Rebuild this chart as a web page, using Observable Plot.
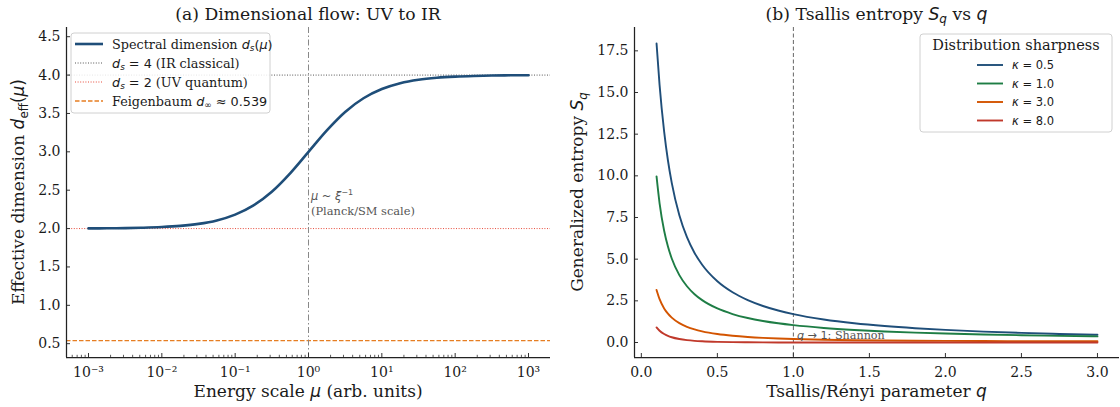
<!DOCTYPE html>
<html><head><meta charset="utf-8">
<script src="https://cdn.jsdelivr.net/npm/d3@7"></script>
<script src="https://cdn.jsdelivr.net/npm/@observablehq/plot@0.6"></script>
<style>
html,body{margin:0;padding:0;background:#fff;}
#fig{position:relative;width:1120px;height:407px;overflow:hidden;background:#fff;}
#fig svg{position:absolute;top:0;}
</style></head><body><div id="fig"></div>
<script>
// ---------- Panel (a): dimensional flow ----------
const muValues = [0.001, 0.00178, 0.00316, 0.00562, 0.01, 0.0178, 0.0316, 0.0562, 0.1, 0.178, 0.316, 0.562, 1, 1.78, 3.16, 5.62, 10, 17.8, 31.6, 56.2, 100, 178, 316, 562, 1000];
const dsValues = [2.002, 2.004, 2.006, 2.011, 2.020, 2.035, 2.061, 2.106, 2.182, 2.302, 2.480, 2.720, 3.000, 3.280, 3.520, 3.698, 3.818, 3.894, 3.939, 3.965, 3.980, 3.989, 3.994, 3.997, 3.998];
const irLevel = 4;
const uvLevel = 2;
const feigenbaum = 0.539;
const crossoverMu = 1;
const aXTicks = [1e-3, 1e-2, 1e-1, 1, 10, 100, 1000];
const aXTickLabels = ["10⁻³", "10⁻²", "10⁻¹", "10⁰", "10¹", "10²", "10³"];
const aYTicks = [0.5, 1.0, 1.5, 2.0, 2.5, 3.0, 3.5, 4.0, 4.5];

// ---------- Panel (b): Tsallis entropy ----------
const qValues = [0.1, 0.12, 0.15, 0.175, 0.2, 0.25, 0.3, 0.35, 0.4, 0.5, 0.6, 0.7, 0.8, 0.9, 1.0, 1.2, 1.4, 1.6, 1.8, 2.0, 2.25, 2.5, 2.75, 3.0];
const sKappa05 = [17.94, 15.44, 12.65, 10.92, 9.577, 7.637, 6.320, 5.375, 4.665, 3.672, 3.012, 2.542, 2.191, 1.920, 1.704, 1.382, 1.154, 0.986, 0.857, 0.755, 0.655, 0.576, 0.513, 0.461];
const sKappa10 = [9.966, 8.351, 6.704, 5.755, 5.041, 4.041, 3.375, 2.899, 2.541, 2.041, 1.708, 1.470, 1.291, 1.152, 1.041, 0.874, 0.754, 0.664, 0.594, 0.538, 0.481, 0.436, 0.399, 0.367];
const sKappa30 = [3.154, 2.599, 2.045, 1.729, 1.492, 1.162, 0.942, 0.786, 0.670, 0.510, 0.405, 0.332, 0.279, 0.239, 0.208, 0.165, 0.137, 0.118, 0.105, 0.095, 0.086, 0.080, 0.075, 0.071];
const sKappa80 = [0.907, 0.705, 0.507, 0.397, 0.316, 0.209, 0.142, 0.099, 0.071, 0.037, 0.020, 0.012, 0.007, 0.004, 0.003, 0.002, 0.0015, 0.0012, 0.001, 0.0007, 0.0006, 0.0006, 0.0005, 0.0005];
const kappaNames = ["0.5", "1.0", "3.0", "8.0"];
const kappaColors = ["#1f4e79", "#1e7d45", "#d35400", "#c0392b"];
const shannonQ = 1;
const bXTicks = [0, 0.5, 1.0, 1.5, 2.0, 2.5, 3.0];
const bYTicks = [0, 2.5, 5.0, 7.5, 10.0, 12.5, 15.0, 17.5];

// ---------- tables ----------
const flowData = muValues.map((mu, i) => ({mu, ds: dsValues[i]}));
const seriesS = [sKappa05, sKappa10, sKappa30, sKappa80];
const entropyData = [];
kappaNames.forEach((k, j) => qValues.forEach((q, i) => entropyData.push({kappa: k, q, S: seriesS[j][i]})));

const W = 560, H = 407;
const SERIF = "DejaVu Serif", SANS = "DejaVu Sans";
const fig = document.getElementById("fig");

function rich(parent, x, y, segs, o = {}) {
  const size = o.size || 13;
  const t = parent.append("text").attr("x", x).attr("y", y)
    .attr("text-anchor", o.anchor || "start")
    .attr("font-size", size).attr("fill", o.fill || "#1a1a1a");
  if (o.rotate) t.attr("transform", `rotate(-90 ${x} ${y})`);
  let cur = 0;
  for (const s of segs) {
    const ts = t.append("tspan").text(s.t).attr("font-family", s.m ? SANS : SERIF);
    if (s.i) ts.attr("font-style", "italic");
    const shift = s.sub ? size * 0.22 : s.sup ? -size * 0.42 : 0;
    const dy = shift - cur;
    if (dy) ts.attr("dy", dy);
    cur = shift;
    if (s.sub || s.sup) ts.attr("font-size", size * 0.7);
  }
  return t;
}

// ===== Panel A =====
const aM = {l: 66, r: 10, t: 27, b: 50};
const aInnerH = H - aM.t - aM.b, aInnerW = W - aM.l - aM.r;
const aXDomain = [10 ** -3.3, 10 ** 3.3];
const aYDomain = [0.32, 4.62];
const aMinor = [];
for (let e = -4; e <= 3; e++) for (let m = 2; m <= 9; m++) { const v = m * 10 ** e; if (v >= aXDomain[0] && v <= aXDomain[1]) aMinor.push(v); }

const plotA = Plot.plot({
  width: W, height: H,
  marginLeft: aM.l, marginRight: aM.r, marginTop: aM.t, marginBottom: aM.b,
  style: {fontFamily: SERIF, fontSize: "14px", color: "#1a1a1a", background: "white", overflow: "visible"},
  x: {type: "log", domain: aXDomain, label: null},
  y: {domain: aYDomain, label: null},
  marks: [
    Plot.ruleY([irLevel], {stroke: "#555", strokeWidth: 1, strokeDasharray: "1,1.6"}),
    Plot.ruleY([uvLevel], {stroke: "#e74c3c", strokeWidth: 1, strokeDasharray: "1,1.6"}),
    Plot.ruleY([feigenbaum], {stroke: "#e67e22", strokeWidth: 1.3, strokeDasharray: "4.5,2"}),
    Plot.ruleX([crossoverMu], {stroke: "#888", strokeWidth: 1, strokeDasharray: "6,2.5,1.5,2.5"}),
    Plot.line(flowData, {x: "mu", y: "ds", stroke: "#1f4e79", strokeWidth: 2.6, curve: "catmull-rom"}),
    Plot.tickX(aMinor, {x: d => d, stroke: "#333", strokeWidth: 0.8, insetTop: aInnerH - 2.2}),
    Plot.tickX(aXTicks, {x: d => d, stroke: "#333", strokeWidth: 1, insetTop: aInnerH - 4}),
    Plot.tickY(aYTicks, {y: d => d, stroke: "#333", strokeWidth: 1, insetRight: aInnerW - 4}),
    Plot.ruleX([aXDomain[0]], {stroke: "#222", strokeWidth: 1.25}),
    Plot.ruleY([aYDomain[0]], {stroke: "#222", strokeWidth: 1.25}),
    Plot.axisX(aXTicks, {tickSize: 0, tickPadding: 10, label: null, tickFormat: d => aXTickLabels[aXTicks.indexOf(d)]}),
    Plot.axisY(aYTicks, {tickSize: 0, tickPadding: 6, label: null, tickFormat: d => d.toFixed(1)})
  ]
});
plotA.style.left = "0px";
fig.appendChild(plotA);

{
  const svg = d3.select(plotA);
  const sx = plotA.scale("x");
  const cx = (aM.l + W - aM.r) / 2, cy = (aM.t + H - aM.b) / 2;
  rich(svg, cx, 19.5, [{t: "(a) Dimensional flow: UV to IR"}], {size: 17.2, anchor: "middle"});
  rich(svg, cx, 397, [{t: "Energy scale "}, {t: "μ", m: 1, i: 1}, {t: " (arb. units)"}], {size: 17, anchor: "middle"});
  rich(svg, 24, cy, [{t: "Effective dimension "}, {t: "d", m: 1, i: 1}, {t: "eff", m: 1, sub: 1}, {t: "(", m: 1}, {t: "μ", m: 1, i: 1}, {t: ")", m: 1}], {size: 17, anchor: "middle", rotate: 1});
  // annotation
  const ax = sx.apply(crossoverMu) + 3;
  rich(svg, ax, 200, [{t: "μ", m: 1, i: 1}, {t: " ~ ", m: 1}, {t: "ξ", m: 1, i: 1}, {t: "−1", m: 1, sup: 1}], {size: 11.4, fill: "#555"});
  rich(svg, ax, 215, [{t: "(Planck/SM scale)"}], {size: 11.4, fill: "#555"});
  // legend
  const lg = svg.append("g");
  lg.append("rect").attr("x", 71).attr("y", 33).attr("width", 199).attr("height", 80).attr("rx", 3)
    .attr("fill", "white").attr("fill-opacity", 0.85).attr("stroke", "#d0d0d0");
  const entries = [
    {stroke: "#1f4e79", w: 2.6, dash: null, segs: [{t: "Spectral dimension "}, {t: "d", m: 1, i: 1}, {t: "s", m: 1, i: 1, sub: 1}, {t: "(", m: 1}, {t: "μ", m: 1, i: 1}, {t: ")", m: 1}]},
    {stroke: "#555", w: 1, dash: "1,1.6", segs: [{t: "d", m: 1, i: 1}, {t: "s", m: 1, i: 1, sub: 1}, {t: " = 4", m: 1}, {t: " (IR classical)"}]},
    {stroke: "#e74c3c", w: 1, dash: "1,1.6", segs: [{t: "d", m: 1, i: 1}, {t: "s", m: 1, i: 1, sub: 1}, {t: " = 2", m: 1}, {t: " (UV quantum)"}]},
    {stroke: "#e67e22", w: 1.3, dash: "4.5,2", segs: [{t: "Feigenbaum "}, {t: "d", m: 1, i: 1}, {t: "∞", m: 1, sub: 1}, {t: " ≈ 0.539", m: 1}]}
  ];
  const ys = [44, 63, 82, 101];
  entries.forEach((e, i) => {
    const ln = lg.append("line").attr("x1", 75).attr("x2", 103).attr("y1", ys[i]).attr("y2", ys[i])
      .attr("stroke", e.stroke).attr("stroke-width", e.w);
    if (e.dash) ln.attr("stroke-dasharray", e.dash);
    rich(lg, 112, ys[i] + 4.5, e.segs, {size: 12.8});
  });
}

// ===== Panel B =====
const bM = {l: 74, r: 1, t: 27, b: 50};
const bInnerH = H - bM.t - bM.b, bInnerW = W - bM.l - bM.r;
const bXDomain = [-0.045, 3.145];
const bYDomain = [-0.9, 18.9];

const plotB = Plot.plot({
  width: W, height: H,
  marginLeft: bM.l, marginRight: bM.r, marginTop: bM.t, marginBottom: bM.b,
  style: {fontFamily: SERIF, fontSize: "14px", color: "#1a1a1a", background: "white", overflow: "visible"},
  x: {domain: bXDomain, label: null},
  y: {domain: bYDomain, label: null},
  color: {domain: kappaNames, range: kappaColors},
  marks: [
    Plot.ruleX([shannonQ], {stroke: "#666", strokeWidth: 1, strokeDasharray: "4,2.5"}),
    Plot.line(entropyData, {x: "q", y: "S", z: "kappa", stroke: "kappa", strokeWidth: 1.9, curve: "monotone-x"}),
    Plot.tickX(bXTicks, {x: d => d, stroke: "#333", strokeWidth: 1, insetTop: bInnerH - 4}),
    Plot.tickY(bYTicks, {y: d => d, stroke: "#333", strokeWidth: 1, insetRight: bInnerW - 4}),
    Plot.ruleX([bXDomain[0]], {stroke: "#222", strokeWidth: 1.25}),
    Plot.ruleY([bYDomain[0]], {stroke: "#222", strokeWidth: 1.25}),
    Plot.axisX(bXTicks, {tickSize: 0, tickPadding: 10, label: null, tickFormat: d => d.toFixed(1)}),
    Plot.axisY(bYTicks, {tickSize: 0, tickPadding: 6, label: null, tickFormat: d => d.toFixed(1)})
  ]
});
plotB.style.left = "560px";
fig.appendChild(plotB);

{
  const svg = d3.select(plotB);
  const sx = plotB.scale("x");
  const cx = (bM.l + W - bM.r) / 2, cy = (bM.t + H - bM.b) / 2;
  rich(svg, cx, 19.5, [{t: "(b) Tsallis entropy "}, {t: "S", m: 1, i: 1}, {t: "q", m: 1, i: 1, sub: 1}, {t: " vs "}, {t: "q", m: 1, i: 1}], {size: 17.2, anchor: "middle"});
  rich(svg, cx, 397, [{t: "Tsallis/Rényi parameter "}, {t: "q", m: 1, i: 1}], {size: 17, anchor: "middle"});
  rich(svg, 23, cy, [{t: "Generalized entropy "}, {t: "S", m: 1, i: 1}, {t: "q", m: 1, i: 1, sub: 1}], {size: 17, anchor: "middle", rotate: 1});
  rich(svg, sx.apply(shannonQ) + 4, 339, [{t: "q", m: 1, i: 1}, {t: " → 1", m: 1}, {t: ": Shannon"}], {size: 11.2, fill: "#555"});
  // legend
  const lg = svg.append("g");
  lg.append("rect").attr("x", 360).attr("y", 34).attr("width", 192).attr("height", 98).attr("rx", 3)
    .attr("fill", "white").attr("fill-opacity", 0.85).attr("stroke", "#d0d0d0");
  rich(lg, 456, 50, [{t: "Distribution sharpness"}], {size: 14.5, anchor: "middle"});
  const ys = [65, 83.5, 102, 120.5];
  kappaNames.forEach((k, i) => {
    lg.append("line").attr("x1", 417).attr("x2", 443).attr("y1", ys[i]).attr("y2", ys[i])
      .attr("stroke", kappaColors[i]).attr("stroke-width", 1.9);
    rich(lg, 452, ys[i] + 4, [{t: "κ", m: 1, i: 1}, {t: " = " + k, m: 1}], {size: 11.5});
  });
}
</script></body></html>
